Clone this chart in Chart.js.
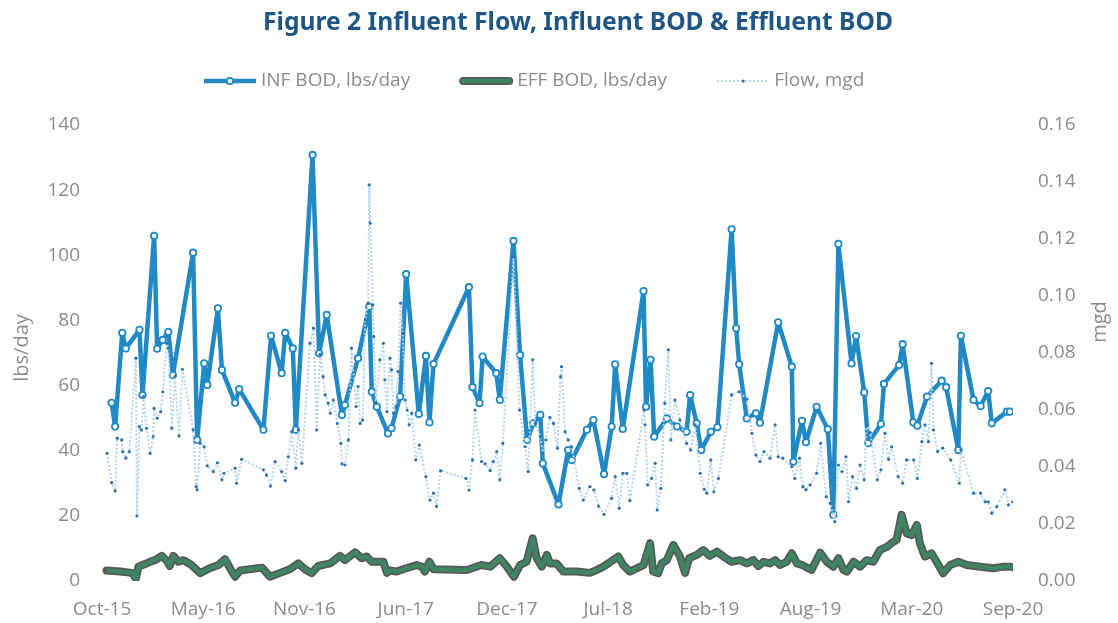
<!DOCTYPE html>
<html>
<head>
<meta charset="utf-8">
<script src="https://cdn.jsdelivr.net/npm/chart.js@4.4.0/dist/chart.umd.min.js"></script>
<style>
  html, body { margin: 0; padding: 0; background: #ffffff; }
  #wrap { width: 1118px; height: 623px; }
</style>
</head>
<body>
<div id="wrap"><canvas id="chart" width="1118" height="623"></canvas></div>
<script>
// Date axis: day 0 is 2015-10-21, labels every 200 days
const START_DATE = '2015-10-21';
const TICK_STEP_DAYS = 200;
const tickLabels = ['Oct-15', 'May-16', 'Nov-16', 'Jun-17', 'Dec-17', 'Jul-18', 'Feb-19', 'Aug-19', 'Mar-20', 'Sep-20'];
const bodTicks = [0, 20, 40, 60, 80, 100, 120, 140];
const mgdTicks = [0, 0.02, 0.04, 0.06, 0.08, 0.10, 0.12, 0.14, 0.16];

// Influent BOD, lbs/day (sample day, value)
const infDays = [19, 26, 40, 47, 74, 80, 103, 109, 120, 131,
  140, 180, 188, 202, 208, 229, 237, 263, 271, 319,
  334, 355, 362, 377, 383, 416, 429, 444, 474, 480,
  506, 528, 533, 543, 565, 572, 589, 601, 626, 640,
  647, 655, 725, 732, 746, 752, 779, 786, 813, 826,
  840, 852, 866, 871, 902, 921, 928, 958, 971, 992,
  1007, 1014, 1029, 1070, 1075, 1084, 1091, 1116, 1136, 1155,
  1162, 1175, 1184, 1203, 1216, 1244, 1253, 1259, 1274, 1292,
  1300, 1336, 1363, 1366, 1383, 1391, 1412, 1434, 1445, 1455,
  1481, 1490, 1506, 1514, 1539, 1545, 1575, 1582, 1603, 1611,
  1630, 1659, 1668, 1692, 1697, 1722, 1736, 1751, 1758, 1788,
  1794];
const infBod = [54.7, 47.4, 76.2, 71.4, 77.1, 57.1, 106.0, 71.3, 74.0, 76.5,
  63.2, 100.8, 43.3, 66.8, 60.2, 83.7, 64.8, 54.7, 58.9, 46.4,
  75.3, 63.8, 76.2, 71.4, 46.4, 130.8, 69.9, 81.7, 51.0, 54.0,
  68.4, 84.2, 58.1, 53.5, 45.3, 46.9, 56.6, 94.2, 51.3, 69.1,
  48.7, 66.6, 90.2, 59.5, 54.6, 68.9, 63.8, 55.6, 104.4, 69.4,
  43.3, 48.4, 51.0, 36.1, 23.5, 40.2, 37.1, 46.4, 49.4, 32.8,
  47.4, 66.5, 46.7, 89.0, 53.5, 67.9, 44.3, 49.9, 47.4, 45.8,
  57.1, 48.4, 40.2, 45.8, 47.2, 108.0, 77.6, 66.5, 49.9, 51.5,
  48.6, 79.4, 65.8, 36.6, 49.2, 42.6, 53.5, 46.6, 20.3, 103.5,
  66.8, 75.2, 57.9, 42.3, 48.2, 60.5, 66.3, 72.7, 48.7, 47.7,
  56.6, 61.5, 59.5, 40.2, 75.3, 55.6, 53.7, 58.3, 48.4, 52.0,
  52.0];

// Effluent BOD, lbs/day
const effDays = [9, 36, 59, 67, 72, 85, 95, 105, 118, 128,
  134, 141, 151, 161, 177, 194, 213, 230, 243, 253,
  263, 273, 316, 332, 352, 371, 388, 401, 414, 427,
  451, 470, 480, 500, 513, 523, 533, 556, 563, 569,
  582, 595, 622, 632, 638, 647, 655, 721, 750, 767,
  786, 800, 814, 826, 839, 851, 859, 869, 879, 885,
  898, 912, 938, 964, 978, 991, 1020, 1030, 1043, 1070,
  1083, 1089, 1099, 1106, 1116, 1129, 1142, 1152, 1160, 1175,
  1188, 1201, 1215, 1228, 1244, 1261, 1274, 1287, 1297, 1307,
  1320, 1330, 1340, 1353, 1363, 1373, 1383, 1402, 1419, 1432,
  1445, 1455, 1465, 1472, 1485, 1498, 1511, 1524, 1537, 1551,
  1560, 1570, 1580, 1590, 1600, 1610, 1616, 1626, 1639, 1649,
  1662, 1676, 1692, 1709, 1735, 1761, 1781, 1794, 1800];
const effBod = [3.2, 2.9, 2.5, 0.8, 4.4, 5.2, 5.9, 6.4, 7.7, 6.2,
  4.6, 7.7, 5.9, 6.4, 4.9, 2.4, 3.9, 4.9, 6.7, 3.9,
  1.3, 3.2, 4.1, 1.3, 2.5, 3.6, 5.4, 3.6, 2.4, 4.6,
  5.4, 7.7, 6.4, 8.8, 7.0, 7.5, 5.9, 5.9, 2.5, 3.2,
  2.9, 3.6, 4.9, 4.4, 2.9, 5.9, 3.6, 3.4, 4.9, 4.4,
  7.0, 4.4, 1.3, 4.9, 5.9, 13.1, 7.0, 4.4, 8.0, 5.4,
  5.4, 2.9, 2.9, 2.5, 3.4, 4.4, 7.5, 4.9, 2.9, 4.9,
  11.6, 2.9, 2.4, 5.4, 6.4, 11.1, 7.5, 2.5, 7.0, 8.0,
  9.5, 7.7, 9.0, 7.5, 5.9, 6.4, 5.4, 6.4, 4.6, 5.9,
  5.4, 6.4, 4.9, 5.9, 8.5, 5.4, 4.9, 3.4, 8.7, 5.9,
  4.4, 7.0, 3.4, 2.9, 5.9, 4.4, 6.4, 5.9, 9.5, 10.5,
  11.6, 12.6, 20.3, 14.6, 14.1, 17.2, 11.6, 7.5, 8.5, 5.9,
  2.4, 4.9, 5.9, 4.9, 4.4, 3.9, 4.4, 4.4, 4.2];

// Influent flow, mgd
const flowDays = [10, 19, 26, 30, 39, 41, 47, 54, 67, 69,
  74, 78, 82, 88, 95, 101, 103, 109, 116, 120,
  128, 131, 138, 144, 152, 159, 180, 186, 188, 194,
  202, 208, 220, 228, 237, 241, 263, 266, 276, 319,
  325, 333, 342, 355, 362, 368, 375, 383, 388, 395,
  411, 418, 424, 431, 437, 441, 447, 451, 457, 465,
  472, 474, 480, 487, 493, 502, 506, 510, 515, 520,
  526, 528, 530, 535, 537, 541, 549, 556, 559, 563,
  569, 572, 576, 581, 585, 590, 594, 599, 603, 607,
  612, 620, 627, 640, 648, 655, 661, 669, 719, 725,
  732, 737, 750, 757, 767, 773, 780, 786, 792, 813,
  825, 836, 842, 851, 856, 866, 871, 877, 885, 892,
  900, 906, 908, 915, 921, 928, 943, 951, 964, 972,
  981, 992, 1007, 1014, 1022, 1029, 1037, 1043, 1071, 1073,
  1078, 1086, 1093, 1097, 1104, 1112, 1119, 1124, 1132, 1142,
  1155, 1163, 1172, 1182, 1190, 1195, 1203, 1209, 1218, 1244,
  1259, 1274, 1284, 1292, 1300, 1308, 1320, 1330, 1336, 1345,
  1363, 1369, 1378, 1385, 1391, 1399, 1412, 1420, 1431, 1439,
  1448, 1455, 1462, 1470, 1475, 1483, 1491, 1498, 1506, 1511,
  1518, 1532, 1539, 1547, 1554, 1560, 1573, 1582, 1590, 1604,
  1611, 1620, 1626, 1633, 1639, 1643, 1651, 1661, 1677, 1694,
  1697, 1722, 1736, 1745, 1751, 1758, 1768, 1784, 1791, 1800];
const flowMgd = [0.0448, 0.0345, 0.0316, 0.0501, 0.0495, 0.0454, 0.0431, 0.0454, 0.0782, 0.0228,
  0.0542, 0.0530, 0.0647, 0.0536, 0.0448, 0.0507, 0.0606, 0.0571, 0.0594, 0.0664,
  0.0834, 0.0817, 0.0536, 0.0717, 0.0509, 0.0743, 0.0530, 0.0331, 0.0320, 0.0483,
  0.0471, 0.0404, 0.0384, 0.0415, 0.0355, 0.0378, 0.0396, 0.0343, 0.0427, 0.0390,
  0.0372, 0.0333, 0.0419, 0.0384, 0.0352, 0.0436, 0.0524, 0.0396, 0.0530, 0.0413,
  0.0834, 0.0887, 0.0530, 0.0795, 0.0717, 0.0653, 0.0624, 0.0589, 0.0635, 0.0553,
  0.0483, 0.0411, 0.0407, 0.0495, 0.0817, 0.0612, 0.0682, 0.0553, 0.0565, 0.0916,
  0.0975, 0.1390, 0.1256, 0.0969, 0.0858, 0.0624, 0.0776, 0.0834, 0.0706, 0.0594,
  0.0782, 0.0741, 0.0589, 0.0612, 0.0735, 0.0975, 0.0869, 0.0635, 0.0600, 0.0548,
  0.0589, 0.0425, 0.0477, 0.0366, 0.0284, 0.0308, 0.0261, 0.0387, 0.0360, 0.0319,
  0.0425, 0.0600, 0.0419, 0.0411, 0.0387, 0.0419, 0.0454, 0.0355, 0.0483, 0.1138,
  0.0600, 0.0471, 0.0384, 0.0776, 0.0553, 0.0507, 0.0450, 0.0495, 0.0574, 0.0553,
  0.0466, 0.0717, 0.0752, 0.0524, 0.0495, 0.0471, 0.0325, 0.0284, 0.0331, 0.0319,
  0.0263, 0.0234, 0.0290, 0.0366, 0.0255, 0.0378, 0.0378, 0.0282, 0.0600, 0.0548,
  0.0337, 0.0360, 0.0413, 0.0249, 0.0325, 0.0624, 0.0811, 0.0495, 0.0635, 0.0565,
  0.0483, 0.0460, 0.0548, 0.0378, 0.0322, 0.0308, 0.0425, 0.0313, 0.0360, 0.0653,
  0.0664, 0.0638, 0.0518, 0.0442, 0.0419, 0.0454, 0.0431, 0.0548, 0.0436, 0.0431,
  0.0401, 0.0360, 0.0431, 0.0331, 0.0320, 0.0337, 0.0378, 0.0483, 0.0296, 0.0273,
  0.0208, 0.0407, 0.0384, 0.0436, 0.0278, 0.0366, 0.0325, 0.0407, 0.0355, 0.0548,
  0.0521, 0.0355, 0.0390, 0.0518, 0.0427, 0.0471, 0.0366, 0.0343, 0.0425, 0.0425,
  0.0360, 0.0489, 0.0548, 0.0489, 0.0764, 0.0530, 0.0454, 0.0466, 0.0425, 0.0343,
  0.0460, 0.0308, 0.0308, 0.0278, 0.0278, 0.0238, 0.0261, 0.0320, 0.0267, 0.0278];

const TITLE = 'Figure 2 Influent Flow, Influent BOD & Effluent BOD';
const LEGEND_NAMES = ['INF BOD, lbs/day', 'EFF BOD, lbs/day', 'Flow, mgd'];
const LEFT_TITLE = 'lbs/day';
const RIGHT_TITLE = 'mgd';

const TEXT_GRAY = '#8c8c8c';
const TITLE_BLUE = '#1f5686';
const INF_BLUE = '#2089c6';
const EFF_GREEN = '#3f8464';
const EFF_EDGE = '#555a57';
const FLOW_LINE = '#b4d3ec';
const FLOW_DOT = '#2f72b0';
const AXIS_FONT = { family: '"Open Sans", "DejaVu Sans", sans-serif', size: 19 };

const pts = (xs, ys) => xs.map((x, i) => ({ x: x, y: ys[i] }));

// Title, legend and the axis titles are painted over the layout space
const decor = {
  id: 'decor',
  afterDraw(chart) {
    const ctx = chart.ctx;
    ctx.save();

    // chart title, squeezed to its printed width
    ctx.font = 'bold 25px "Noto Sans", "DejaVu Sans", sans-serif';
    ctx.fillStyle = TITLE_BLUE;
    ctx.textAlign = 'center';
    ctx.textBaseline = 'middle';
    const tw = ctx.measureText(TITLE).width;
    ctx.save();
    ctx.translate(578, 23);
    ctx.scale(630 / tw, 1);
    ctx.fillText(TITLE, 0, 0);
    ctx.restore();

    // legend
    const ly = 81;
    const sample = 52;
    ctx.font = '19px "Open Sans", "DejaVu Sans", sans-serif';
    ctx.textAlign = 'left';
    let x = 204;
    LEGEND_NAMES.forEach((name, i) => {
      const cx = x + sample / 2;
      ctx.setLineDash([]);
      if (i === 0) {
        ctx.strokeStyle = INF_BLUE; ctx.lineWidth = 4.5;
        ctx.beginPath(); ctx.moveTo(x, ly); ctx.lineTo(x + sample, ly); ctx.stroke();
        ctx.beginPath(); ctx.arc(cx, ly, 3.2, 0, Math.PI * 2);
        ctx.fillStyle = '#ffffff'; ctx.fill(); ctx.lineWidth = 1.8; ctx.stroke();
      } else if (i === 1) {
        ctx.lineCap = 'round';
        ctx.strokeStyle = EFF_EDGE; ctx.lineWidth = 8;
        ctx.beginPath(); ctx.moveTo(x + 3, ly); ctx.lineTo(x + sample - 3, ly); ctx.stroke();
        ctx.strokeStyle = EFF_GREEN; ctx.lineWidth = 4.5;
        ctx.beginPath(); ctx.moveTo(x + 3, ly); ctx.lineTo(x + sample - 3, ly); ctx.stroke();
        ctx.lineCap = 'butt';
      } else {
        ctx.strokeStyle = FLOW_LINE; ctx.lineWidth = 2; ctx.setLineDash([2, 2]);
        ctx.beginPath(); ctx.moveTo(x, ly); ctx.lineTo(x + sample, ly); ctx.stroke();
        ctx.setLineDash([]);
        ctx.fillStyle = FLOW_DOT;
        ctx.beginPath(); ctx.arc(cx, ly, 1.6, 0, Math.PI * 2); ctx.fill();
      }
      ctx.fillStyle = TEXT_GRAY;
      ctx.textBaseline = 'middle';
      ctx.fillText(name, x + sample + 5, ly);
      x += sample + 5 + ctx.measureText(name).width + 50;
    });

    // axis titles, both reading bottom to top
    ctx.font = '20px "Open Sans", "DejaVu Sans", sans-serif';
    ctx.fillStyle = TEXT_GRAY;
    ctx.textAlign = 'center';
    ctx.textBaseline = 'middle';
    [[22, 348, LEFT_TITLE], [1100, 322, RIGHT_TITLE]].forEach(([tx, ty, t]) => {
      ctx.save();
      ctx.translate(tx, ty);
      ctx.rotate(-Math.PI / 2);
      ctx.fillText(t, 0, 0);
      ctx.restore();
    });
    ctx.restore();
  }
};

new Chart(document.getElementById('chart'), {
  type: 'line',
  data: {
    datasets: [
      {
        label: LEGEND_NAMES[2],
        data: pts(flowDays, flowMgd),
        yAxisID: 'y1',
        borderColor: FLOW_LINE,
        borderWidth: 2,
        borderDash: [2, 2],
        borderJoinStyle: 'round',
        pointRadius: 1.6,
        pointBackgroundColor: FLOW_DOT,
        pointBorderWidth: 0,
        order: 0
      },
      {
        label: LEGEND_NAMES[0],
        data: pts(infDays, infBod),
        yAxisID: 'y',
        borderColor: INF_BLUE,
        borderWidth: 4.5,
        borderJoinStyle: 'round',
        pointRadius: 3.2,
        pointBorderWidth: 1.8,
        pointBorderColor: INF_BLUE,
        pointBackgroundColor: '#ffffff',
        order: 1
      },
      {
        label: LEGEND_NAMES[1],
        data: pts(effDays, effBod),
        yAxisID: 'y',
        borderColor: EFF_GREEN,
        borderWidth: 4.5,
        borderJoinStyle: 'round',
        pointRadius: 0,
        order: 2
      },
      {
        label: LEGEND_NAMES[1] + ' edge',
        data: pts(effDays, effBod),
        yAxisID: 'y',
        borderColor: EFF_EDGE,
        borderWidth: 8,
        borderJoinStyle: 'round',
        borderCapStyle: 'round',
        pointRadius: 0,
        order: 3
      }
    ]
  },
  options: {
    responsive: false,
    animation: false,
    events: [],
    layout: { padding: { top: 125, left: 0, right: 0, bottom: 0 } },
    plugins: { legend: { display: false }, title: { display: false }, tooltip: { enabled: false } },
    elements: { line: { tension: 0 } },
    scales: {
      x: {
        type: 'linear',
        min: 0,
        max: TICK_STEP_DAYS * (tickLabels.length - 1),
        grid: { display: false, drawTicks: false },
        border: { display: false },
        afterBuildTicks: s => { s.ticks = tickLabels.map((_, i) => ({ value: i * TICK_STEP_DAYS })); },
        afterFit: s => { s.height = 42; },
        ticks: {
          autoSkip: false, maxRotation: 0, padding: 17,
          color: TEXT_GRAY, font: AXIS_FONT,
          callback: v => tickLabels[Math.round(v / TICK_STEP_DAYS)]
        }
      },
      y: {
        position: 'left',
        min: 0, max: 140,
        grid: { display: false, drawTicks: false },
        border: { display: false },
        afterBuildTicks: s => { s.ticks = bodTicks.map(v => ({ value: v })); },
        afterFit: s => { s.width = 102; },
        ticks: { padding: 22, color: TEXT_GRAY, font: AXIS_FONT }
      },
      y1: {
        position: 'right',
        min: 0, max: 0.16,
        grid: { display: false, drawTicks: false },
        border: { display: false },
        afterBuildTicks: s => { s.ticks = mgdTicks.map(v => ({ value: v })); },
        afterFit: s => { s.width = 105; },
        ticks: { padding: 25, color: TEXT_GRAY, font: AXIS_FONT, callback: v => v.toFixed(2) }
      }
    }
  },
  plugins: [decor]
});
</script>
</body>
</html>
